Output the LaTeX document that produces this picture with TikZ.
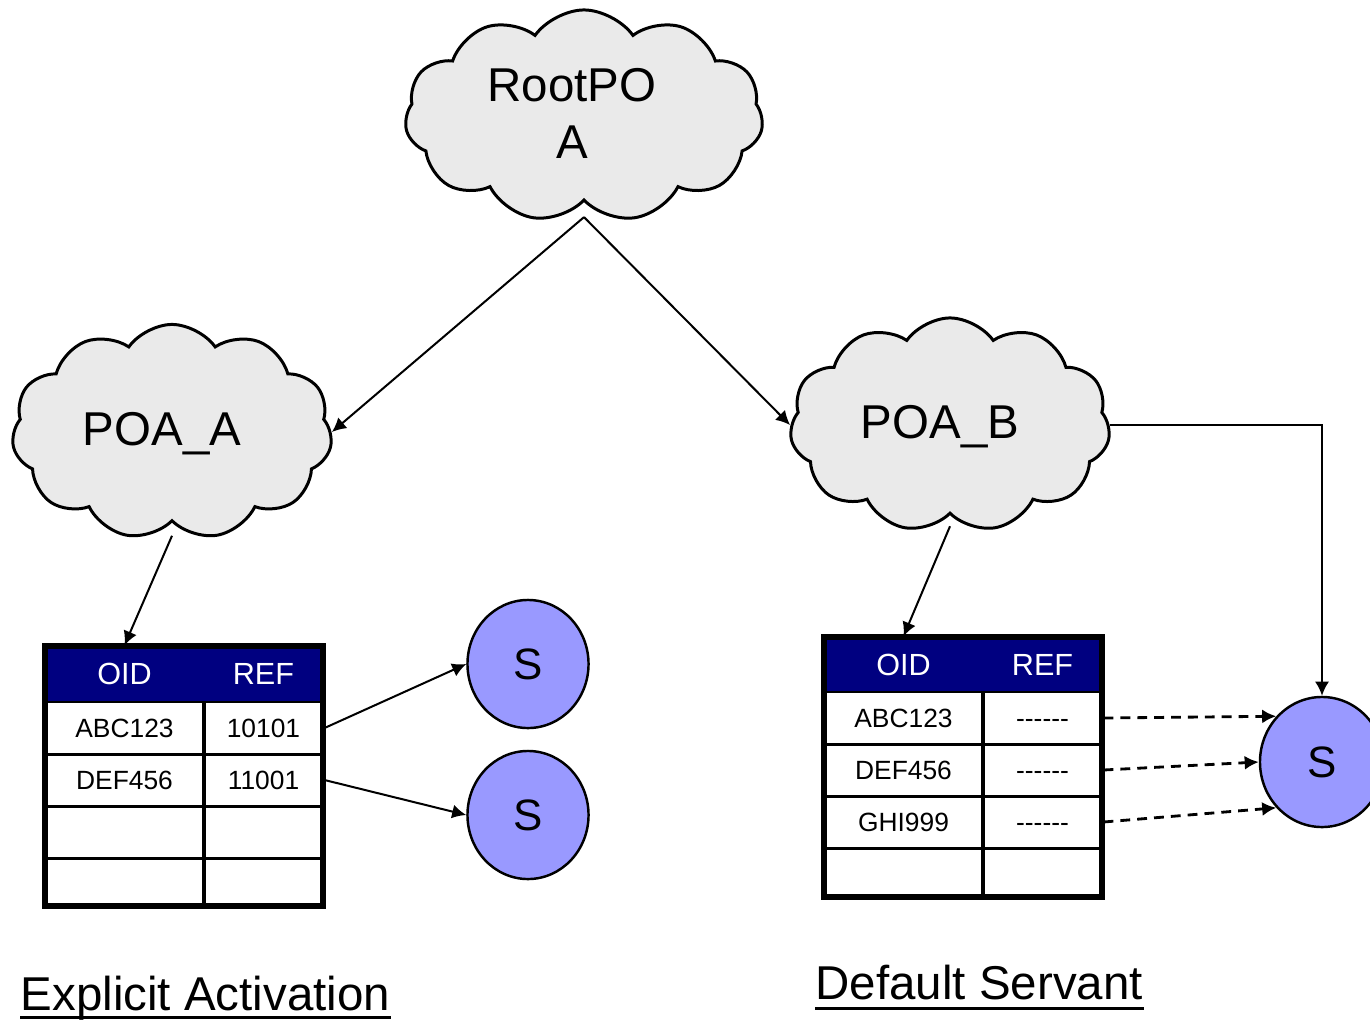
\documentclass[tikz,border=0pt]{standalone}
\usepackage{fontspec}
\setmainfont{Liberation Sans}
\usetikzlibrary{arrows.meta,shapes}
\definecolor{cloudgray}{HTML}{EAEAEA}
\definecolor{tablenavy}{HTML}{000080}
\definecolor{servantblue}{HTML}{9999FF}
\tikzstyle{poa}=[cloud,cloud puffs=11,cloud puff arc=110,cloud ignores aspect,draw,fill=cloudgray,line width=0.85pt,inner sep=0pt]
\tikzstyle{poatext}=[inner sep=0pt,align=center,font=\fontsize{13.5}{16.2}\selectfont]
\tikzstyle{servant}=[ellipse,draw,fill=servantblue,line width=0.7pt,inner sep=0pt,font=\fontsize{12.5}{15}\selectfont]
\tikzstyle{head}=[rectangle,fill=tablenavy,text=white,inner sep=0pt,minimum height=0.56cm,text height=6.2pt,text depth=0pt,font=\fontsize{8.7}{10}\selectfont]
\tikzstyle{cell}=[rectangle,draw,line width=0.85pt,inner sep=0pt,minimum height=0.52cm,text height=5.4pt,text depth=0pt,font=\fontsize{7.5}{9}\selectfont]
\tikzstyle{edge} = [draw,line width=0.57pt,-{Latex[length=4pt,width=4pt]}]
\tikzstyle{title}=[inner sep=0pt,font=\fontsize{13.5}{16}\selectfont]
\newcommand{\nodash}{-{}-{}-{}-{}-{}-}

\begin{document}
\begin{tikzpicture}[x=0.01cm,y=-0.01cm]
      \useasboundingbox (0,0) rectangle (1370,1021);
      % clouds
      \node[poa,minimum width=3.58cm,minimum height=2.12cm] (root) at (584,116) {};
      \node[poa,minimum width=3.2cm,minimum height=2.15cm] (poaA) at (172,432) {};
      \node[poa,minimum width=3.2cm,minimum height=2.14cm] (poaB) at (950,425) {};
      \node[poatext] (rootText) at (572,113) {RootPO\\A};
      \node[poatext] (poaAText) at (162,434) {POA\_A};
      \node[poatext] (poaBText) at (940,427) {POA\_B};
      % table A
      \node[head,minimum width=1.59cm] (oidA) at (124.5,674) {OID};
      \node[head,minimum width=1.19cm] (refA) at (263.5,674) {REF};
      \node[cell,minimum width=1.59cm] (oidA1) at (124.5,728) {ABC123};
      \node[cell,minimum width=1.19cm] (refA1) at (263.5,728) {10101};
      \node[cell,minimum width=1.59cm] (oidA2) at (124.5,780) {DEF456};
      \node[cell,minimum width=1.19cm] (refA2) at (263.5,780) {11001};
      \node[cell,minimum width=1.59cm] (oidA3) at (124.5,832) {};
      \node[cell,minimum width=1.19cm] (refA3) at (263.5,832) {};
      \node[cell,minimum width=1.59cm,minimum height=0.48cm] (oidA4) at (124.5,882) {};
      \node[cell,minimum width=1.19cm,minimum height=0.48cm] (refA4) at (263.5,882) {};
      \draw[line width=1.7pt] (45,646) rectangle (323,906);
      % table B
      \node[head,minimum width=1.59cm,minimum height=0.55cm] (oidB) at (903.5,664.5) {OID};
      \node[head,minimum width=1.19cm,minimum height=0.55cm] (refB) at (1042.5,664.5) {REF};
      \node[cell,minimum width=1.59cm] (oidB1) at (903.5,718) {ABC123};
      \node[cell,minimum width=1.19cm] (refB1) at (1042.5,718) {\nodash};
      \node[cell,minimum width=1.59cm] (oidB2) at (903.5,770) {DEF456};
      \node[cell,minimum width=1.19cm] (refB2) at (1042.5,770) {\nodash};
      \node[cell,minimum width=1.59cm] (oidB3) at (903.5,822) {GHI999};
      \node[cell,minimum width=1.19cm] (refB3) at (1042.5,822) {\nodash};
      \node[cell,minimum width=1.59cm,minimum height=0.49cm] (oidB4) at (903.5,872.5) {};
      \node[cell,minimum width=1.19cm,minimum height=0.49cm] (refB4) at (1042.5,872.5) {};
      \draw[line width=1.7pt] (824,637) rectangle (1102,897);
      % servants
      \node[servant,minimum width=1.21cm,minimum height=1.28cm] (sA1) at (528,664) {S};
      \node[servant,minimum width=1.21cm,minimum height=1.28cm] (sA2) at (528,815) {S};
      \node[servant,minimum width=1.24cm,minimum height=1.30cm] (sB) at (1322,762) {S};
      % edges
      \draw[edge] ([yshift=-0.15cm]root.south) to (poaA.east);
      \draw[edge] ([yshift=-0.15cm]root.south) to (poaB.west);
      \draw[edge] ([yshift=-0.13cm]poaA.south) to (oidA.north);
      \draw[edge] ([yshift=-0.11cm]poaB.south) to (oidB.north);
      \draw[edge] (poaB.east) -| (sB.north);
      \draw[edge] (refA1.east) to (sA1.west);
      \draw[edge] (refA2.east) to (sA2.west);
      \draw[edge,dash pattern=on 2.8pt off 2pt,line width=0.8pt] (refB1.east) to (sB.135);
      \draw[edge,dash pattern=on 2.8pt off 2pt,line width=0.8pt] (refB2.east) to (sB.west);
      \draw[edge,dash pattern=on 2.8pt off 2pt,line width=0.8pt] (refB3.east) to (sB.225);
      % captions
      \node[title,anchor=base west] (explicit) at (20,1010) {Explicit Activation};
      \node[title,anchor=base west] (default) at (815,999) {Default Servant};
      \draw[line width=0.85pt] ([yshift=-0.07cm]explicit.base west) -- ([yshift=-0.07cm]explicit.base east);
      \draw[line width=0.85pt] ([yshift=-0.09cm]default.base west) -- ([yshift=-0.09cm]default.base east);
    \end{tikzpicture}
\end{document}
